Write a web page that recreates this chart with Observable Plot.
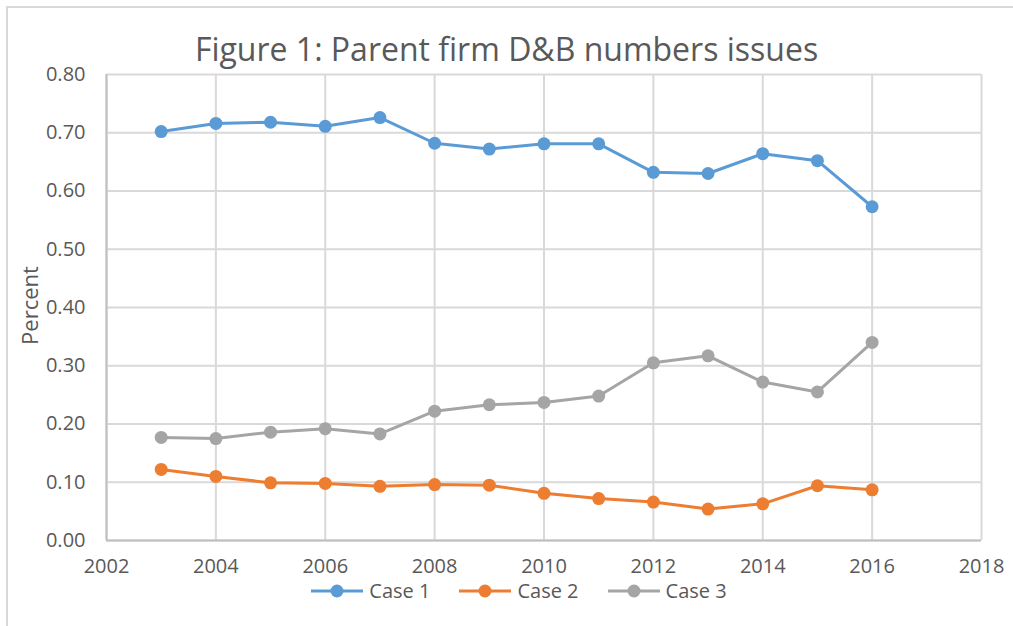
<!DOCTYPE html>
<html>
<head>
<meta charset="utf-8">
<script src="https://cdn.jsdelivr.net/npm/d3@7"></script>
<script src="https://cdn.jsdelivr.net/npm/@observablehq/plot@0.6"></script>
<style>
  html, body { margin: 0; padding: 0; background: #fff; }
  #wrap { position: relative; width: 1013px; height: 626px; overflow: hidden; font-family: "Open Sans", Lato, sans-serif; }
  #frame { position: absolute; left: 6px; top: 6px; width: 1100px; height: 700px; border: 2px solid #d9d9d9; box-sizing: border-box; }
  #title { position: absolute; left: 0; width: 1013px; top: 27px; text-align: center; font-size: 32px; color: #595959; line-height: 44px; }
  #legend { position: absolute; left: 0; width: 1013px; top: 582px; height: 18px; display: flex; justify-content: center; padding-left: 24px; box-sizing: border-box; font-size: 20px; line-height: 18px; color: #595959; }
  .item { display: flex; align-items: center; margin: 0 14px; height: 18px; }
  .item svg { margin-right: 5px; }
  .item span { display: inline-block; height: 18px; line-height: 18px; overflow: visible; }
  #chart { position: absolute; left: 0; top: 0; }
</style>
</head>
<body>
<div id="wrap">
  <div id="frame"></div>
  <div id="chart"></div>
  <div id="title">Figure 1: Parent firm D&amp;B numbers issues</div>
  <div id="legend"></div>
</div>
<script>
const years = [2003, 2004, 2005, 2006, 2007, 2008, 2009, 2010, 2011, 2012, 2013, 2014, 2015, 2016];
const case1 = [0.702, 0.716, 0.718, 0.711, 0.726, 0.682, 0.672, 0.681, 0.681, 0.632, 0.630, 0.664, 0.652, 0.573];
const case2 = [0.122, 0.110, 0.099, 0.098, 0.093, 0.096, 0.095, 0.081, 0.072, 0.066, 0.054, 0.063, 0.094, 0.087];
const case3 = [0.177, 0.175, 0.186, 0.192, 0.183, 0.222, 0.233, 0.237, 0.248, 0.305, 0.317, 0.272, 0.255, 0.340];
const seriesNames = ["Case 1", "Case 2", "Case 3"];
const seriesColors = ["#5b9bd5", "#ed7d31", "#a5a5a5"];
const xTicks = [2002, 2004, 2006, 2008, 2010, 2012, 2014, 2016, 2018];
const yTicks = [0, 0.1, 0.2, 0.3, 0.4, 0.5, 0.6, 0.7, 0.8];
const yLabel = "Percent";

const allSeries = [case1, case2, case3];
const data = [];
allSeries.forEach((vals, si) => {
  vals.forEach((v, i) => data.push({ year: years[i], value: v, series: seriesNames[si] }));
});

const chart = Plot.plot({
  width: 1013,
  height: 626,
  marginLeft: 106,
  marginRight: 32,
  marginTop: 74,
  marginBottom: 86,
  style: { fontFamily: "'Open Sans', Lato, sans-serif", fontSize: "20px", color: "#595959", background: "transparent", overflow: "visible" },
  x: { domain: [2002, 2018], label: null },
  y: { domain: [0, 0.8], label: null },
  color: { domain: seriesNames, range: seriesColors },
  marks: [
    Plot.gridX(xTicks, { stroke: "#d9d9d9", strokeOpacity: 1, strokeWidth: 2 }),
    Plot.gridY(yTicks, { stroke: "#d9d9d9", strokeOpacity: 1, strokeWidth: 2 }),
    Plot.ruleX([2002], { stroke: "#bfbfbf", strokeWidth: 2 }),
    Plot.ruleY([0], { stroke: "#bfbfbf", strokeWidth: 2 }),
    Plot.axisX({ ticks: xTicks, tickFormat: d => String(d), tickSize: 0, tickPadding: 18, fontSize: 20, fill: "#595959" }),
    Plot.axisY({ ticks: yTicks, tickFormat: d => d.toFixed(2), tickSize: 0, tickPadding: 21, fontSize: 20, fill: "#595959" }),
    Plot.text([yLabel], { frameAnchor: "left", textAnchor: "middle", dx: -76, dy: -2, rotate: -90, fontSize: 22, fill: "#595959", text: d => d }),
    Plot.line(data, { x: "year", y: "value", z: "series", stroke: "series", strokeWidth: 3 }),
    Plot.dot(data, { x: "year", y: "value", fill: "series", r: 6.5, stroke: "none" })
  ]
});
document.getElementById("chart").appendChild(chart);

const legend = document.getElementById("legend");
seriesNames.forEach((name, i) => {
  const item = document.createElement("div");
  item.className = "item";
  item.innerHTML = `<svg width="54" height="16"><line x1="1" y1="8" x2="53" y2="8" stroke="${seriesColors[i]}" stroke-width="3"/><circle cx="27" cy="8" r="6.5" fill="${seriesColors[i]}"/></svg><span>${name}</span>`;
  legend.appendChild(item);
});
</script>
</body>
</html>
